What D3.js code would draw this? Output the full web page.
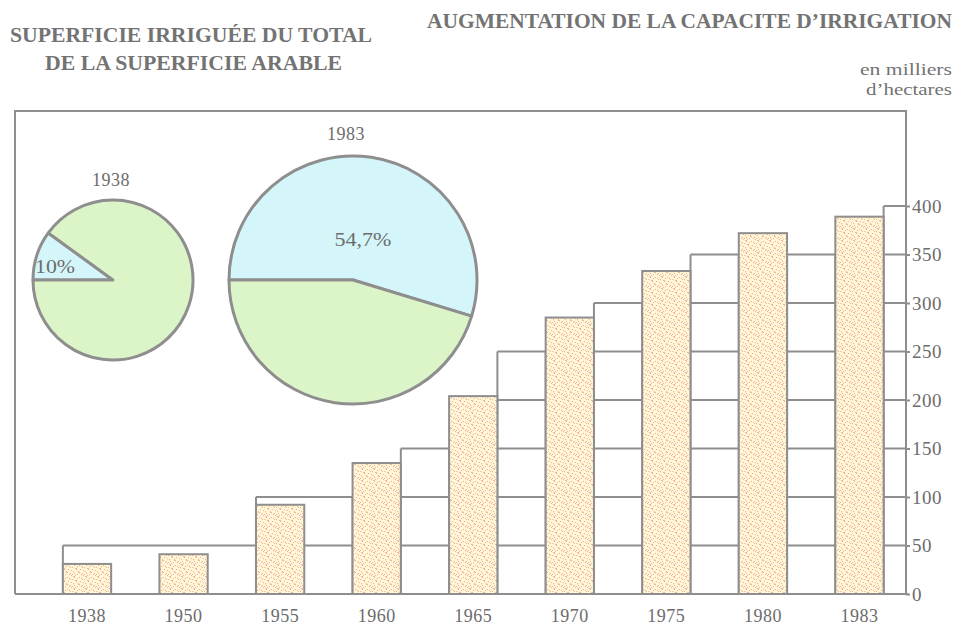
<!DOCTYPE html>
<html>
<head>
<meta charset="utf-8">
<script src="https://cdn.jsdelivr.net/npm/d3@7"></script>
<style>
  body { margin: 0; background: #fff; }
  svg { display: block; font-family: "Liberation Serif", "Times New Roman", serif; }
</style>
</head>
<body>
<div id="chart"></div>
<script>
// donnees - capacite d'irrigation (milliers d'hectares)
var annees = ['1938', '1950', '1955', '1960', '1965', '1970', '1975', '1980', '1983'];
var capacite = [31, 41, 92, 135, 204, 285, 333, 372, 389];
var graduations = [0, 50, 100, 150, 200, 250, 300, 350, 400];

// grille en escalier : debut de chaque palier (bord gauche/droit d'une barre) et son niveau
var palierDebut = ['1938', '1955', '1960', '1965', '1970', '1975', '1980', '1983'];
var palierCote = ['g', 'g', 'd', 'd', 'd', 'd', 'd', 'd'];
var palierNiveau = [50, 100, 150, 250, 300, 350, 350, 400];

// camemberts - part de la superficie irriguee
var camembertAnnees = ['1938', '1983'];
var partIrriguee = [10, 54.7];
var partLabels = ['10%', '54,7%'];

var W = 958, H = 628;
var gris = '#8e8e8e', texte = '#6c6c6c';

var svg = d3.select('#chart')
  .append('svg')
  .attr('width', W)
  .attr('height', H);

// texture des barres (grain rose sur fond creme)
var defs = svg.append('defs');
var pat = defs.append('pattern')
  .attr('id', 'grain')
  .attr('width', 12).attr('height', 12)
  .attr('patternUnits', 'userSpaceOnUse');
pat.append('rect').attr('width', 12).attr('height', 12).attr('fill', '#fff6cf');
var rose = [[1,0],[2,0],[2,1],[7,1],[5,2],[9,2],[10,3],[0,3],[3,4],[4,4],[4,5],[8,5],[11,6],
            [1,7],[6,7],[6,8],[7,8],[2,9],[10,9],[9,10],[3,11],[0,10],[5,10],[11,11]];
rose.forEach(function(p) {
  pat.append('rect').attr('x', p[0]).attr('y', p[1]).attr('width', 1).attr('height', 1).attr('fill', '#f5aeac');
});
var blanc = [[5,0],[10,0],[0,1],[8,3],[2,6],[6,4],[9,7],[4,9],[11,4],[7,11],[1,11]];
blanc.forEach(function(p) {
  pat.append('rect').attr('x', p[0]).attr('y', p[1]).attr('width', 1).attr('height', 1).attr('fill', '#ffffff');
});

// echelles
var x = d3.scaleBand()
  .domain(annees)
  .range([14.6, 931.9])
  .paddingInner(0.5)
  .paddingOuter(0.5);

var y = d3.scaleLinear()
  .domain([0, 400])
  .range([594, 206]);

var bw = x.bandwidth();
var axeX = 906;
var cadreHaut = 111, cadreGauche = 15;

// cadre
svg.append('path')
  .attr('d', 'M' + cadreGauche + ',' + y(0) + 'V' + cadreHaut + 'H' + axeX + 'V' + y(0))
  .attr('fill', 'none')
  .attr('stroke', gris)
  .attr('stroke-width', 2);

// grille en escalier
var paliers = palierDebut.map(function(a, i) {
  var x0 = palierCote[i] == 'g' ? x(a) : x(a) + bw;
  var x1 = i < palierDebut.length - 1 ? x(palierDebut[i + 1]) : axeX;
  return {x0: x0, x1: x1, niveau: palierNiveau[i]};
});

var grille = svg.append('g')
  .attr('stroke', gris)
  .attr('stroke-width', 2)
  .attr('fill', 'none');

paliers.forEach(function(p) {
  graduations.filter(function(g) { return g > 0 && g <= p.niveau; })
    .forEach(function(g) {
      grille.append('line')
        .attr('x1', p.x0).attr('x2', p.x1)
        .attr('y1', y(g)).attr('y2', y(g));
    });
  [p.x0, p.x1].forEach(function(xx) {
    grille.append('line')
      .attr('x1', xx).attr('x2', xx)
      .attr('y1', y(0)).attr('y2', y(p.niveau));
  });
});

// ligne de base
svg.append('line')
  .attr('x1', cadreGauche).attr('x2', axeX + 2)
  .attr('y1', y(0)).attr('y2', y(0))
  .attr('stroke', gris)
  .attr('stroke-width', 2);

// barres
svg.selectAll('.barre')
  .data(annees)
  .enter()
  .append('rect')
  .attr('class', 'barre')
  .attr('x', function(d) { return x(d); })
  .attr('y', function(d, i) { return y(capacite[i]); })
  .attr('width', bw)
  .attr('height', function(d, i) { return y(0) - y(capacite[i]); })
  .attr('fill', 'url(#grain)')
  .attr('stroke', gris)
  .attr('stroke-width', 2);

// axe des x
svg.selectAll('.annee')
  .data(annees)
  .enter()
  .append('text')
  .attr('class', 'annee')
  .attr('x', function(d) { return x(d) + bw / 2; })
  .attr('y', 622)
  .attr('text-anchor', 'middle')
  .attr('font-size', '18px')
  .attr('letter-spacing', '0.5px')
  .attr('fill', texte)
  .text(function(d) { return d; });

// axe des y (a droite)
var axe = svg.append('g')
  .attr('transform', 'translate(' + axeX + ',0)')
  .call(d3.axisRight(y).tickValues(graduations).tickSize(4).tickSizeOuter(0).tickPadding(2));
axe.select('.domain').remove();
axe.selectAll('line').attr('stroke', gris).attr('stroke-width', 2);
axe.selectAll('text')
  .attr('font-family', '"Liberation Serif", serif')
  .attr('font-size', '19px')
  .attr('letter-spacing', '0.5px')
  .attr('fill', texte);

// camemberts
var pieCentres = [[113, 280], [353, 280]];
var pieRayons = [80, 124];
var pieTitreY = [186, 140];
var pieTitreX = [111, 346];
var labelPos = [[55, 273], [363, 246]];
var labelLong = [40, 57];

var pie = d3.pie()
  .sort(null)
  .startAngle(-Math.PI / 2)
  .endAngle(3 * Math.PI / 2);

camembertAnnees.forEach(function(a, i) {
  var g = svg.append('g')
    .attr('transform', 'translate(' + pieCentres[i][0] + ',' + pieCentres[i][1] + ')');
  var arc = d3.arc().innerRadius(0).outerRadius(pieRayons[i]);
  g.selectAll('path')
    .data(pie([partIrriguee[i], 100 - partIrriguee[i]]))
    .enter()
    .append('path')
    .attr('d', arc)
    .attr('fill', function(d, j) { return j == 0 ? '#d4f6fa' : '#dcf5c8'; })
    .attr('stroke', gris)
    .attr('stroke-width', 3)
    .attr('stroke-linejoin', 'round');

  svg.append('text')
    .attr('x', pieTitreX[i])
    .attr('y', pieTitreY[i])
    .attr('text-anchor', 'middle')
    .attr('font-size', '18px')
    .attr('letter-spacing', '0.5px')
    .attr('fill', texte)
    .text(a);

  svg.append('text')
    .attr('x', labelPos[i][0] - labelLong[i] / 2)
    .attr('y', labelPos[i][1])
    .attr('font-size', '19px')
    .attr('textLength', labelLong[i])
    .attr('lengthAdjust', 'spacingAndGlyphs')
    .attr('fill', texte)
    .text(partLabels[i]);
});

// titres
var titres = [
  {t: 'SUPERFICIE IRRIGUÉE DU TOTAL', x: 10, y: 42, l: 362, s: 20, b: true},
  {t: 'DE LA SUPERFICIE ARABLE', x: 45, y: 70, l: 297, s: 20, b: true},
  {t: 'AUGMENTATION DE LA CAPACITE D\u2019IRRIGATION', x: 427, y: 28, l: 525, s: 20, b: true},
  {t: 'en milliers', x: 860, y: 75, l: 92, s: 17, b: false},
  {t: 'd\u2019hectares', x: 866, y: 95, l: 86, s: 17, b: false}
];
titres.forEach(function(d) {
  svg.append('text')
    .attr('x', d.x)
    .attr('y', d.y)
    .attr('font-size', d.s + 'px')
    .attr('font-weight', d.b ? 'bold' : 'normal')
    .attr('textLength', d.l)
    .attr('lengthAdjust', 'spacingAndGlyphs')
    .attr('fill', '#737373')
    .text(d.t);
});
</script>
</body>
</html>
